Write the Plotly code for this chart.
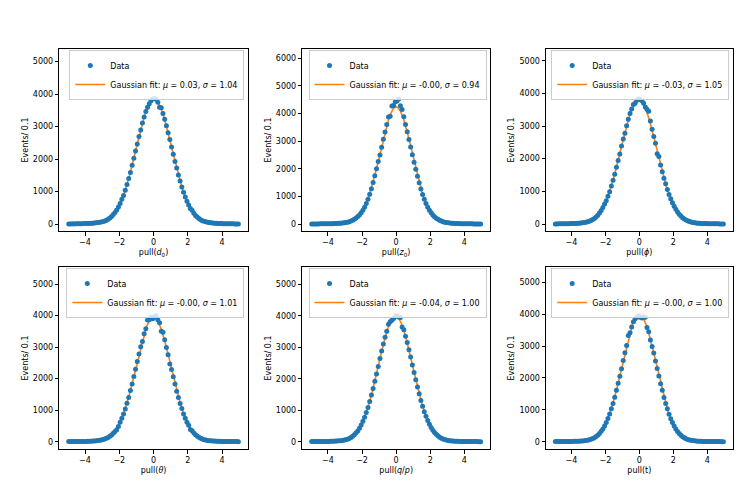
import numpy as np
import plotly.graph_objects as go

# ---------------- data ----------------
bin_width = 0.1
bin_start = -4.95  # first bin centre

counts_d0 = [
    4, 3, 5, 4, 6, 7, 6, 9, 10, 12,
    14, 16, 19, 22, 27, 31, 38, 44, 52, 63,
    76, 95, 118, 148, 186, 232, 290, 355, 432, 520,
    628, 762, 880, 1040, 1215, 1400, 1585, 1805, 2020, 2245,
    2460, 2690, 2890, 3110, 3290, 3460, 3590, 3700, 3790, 3850,
    3860, 3840, 3750, 3590, 3575, 3400, 3220, 3020, 2810, 2600,
    2370, 2150, 1925, 1720, 1505, 1320, 1140, 975, 835, 700,
    585, 475, 420, 330, 265, 212, 168, 133, 104, 82,
    66, 53, 44, 36, 30, 25, 21, 18, 15, 13,
    11, 9, 8, 7, 6, 5, 5, 4, 3, 3,
]
counts_z0 = [
    2, 3, 3, 4, 4, 5, 5, 6, 7, 8,
    9, 11, 13, 15, 18, 21, 25, 30, 37, 45,
    55, 68, 86, 108, 137, 172, 215, 268, 330, 410,
    495, 605, 740, 900, 1080, 1280, 1500, 1750, 2000, 2260,
    2500, 2780, 3070, 3330, 3600, 3870, 3900, 4270, 4290, 4430,
    4450, 4530, 4280, 4150, 3880, 3600, 3340, 3060, 2790, 2510,
    2240, 1980, 1730, 1490, 1270, 1070, 900, 745, 610, 500,
    405, 325, 262, 210, 168, 134, 106, 84, 67, 54,
    44, 36, 30, 25, 21, 18, 15, 13, 11, 9,
    8, 7, 6, 5, 5, 4, 4, 3, 3, 2,
]
counts_phi = [
    4, 4, 5, 5, 6, 7, 8, 9, 10, 12,
    14, 17, 19, 23, 27, 33, 38, 46, 56, 67,
    84, 106, 136, 172, 215, 270, 335, 410, 505, 610,
    715, 850, 990, 1160, 1340, 1525, 1740, 1945, 2140, 2390,
    2600, 2780, 3010, 3210, 3380, 3520, 3660, 3700, 3790, 3830,
    3810, 3770, 3700, 3580, 3510, 3450, 3150, 2900, 2680, 2470,
    2150, 2070, 1810, 1600, 1400, 1230, 1060, 905, 770, 650,
    540, 450, 370, 300, 245, 195, 155, 122, 96, 76,
    60, 48, 39, 32, 27, 23, 19, 16, 14, 12,
    10, 9, 8, 7, 6, 5, 5, 4, 4, 3,
]
counts_theta = [
    3, 3, 4, 4, 5, 5, 6, 7, 8, 9,
    10, 12, 14, 17, 20, 24, 29, 35, 43, 53,
    68, 86, 108, 135, 170, 215, 270, 320, 380, 480,
    620, 745, 880, 1040, 1220, 1400, 1620, 1830, 2070, 2300,
    2540, 2780, 3010, 3180, 3420, 3580, 3860, 3870, 3950, 3900,
    3960, 3990, 3870, 3770, 3500, 3470, 3230, 2990, 2760, 2460,
    2290, 2060, 1830, 1600, 1400, 1210, 1050, 880, 745, 615,
    520, 390, 350, 280, 222, 176, 138, 108, 85, 66,
    52, 42, 34, 28, 23, 19, 16, 13, 11, 9,
    8, 7, 6, 5, 5, 4, 4, 3, 3, 2,
]
counts_qp = [
    3, 3, 4, 4, 5, 5, 6, 7, 8, 9,
    10, 12, 14, 16, 19, 22, 27, 33, 40, 50,
    62, 80, 104, 135, 172, 220, 285, 340, 430, 530,
    650, 780, 930, 1090, 1280, 1480, 1690, 1920, 2150, 2390,
    2640, 2880, 3100, 3320, 3510, 3735, 3810, 3860, 3910, 3990,
    3990, 3960, 3945, 3640, 3560, 3350, 3150, 2920, 2690, 2440,
    2200, 1965, 1735, 1520, 1310, 1130, 955, 805, 670, 555,
    455, 365, 295, 235, 185, 145, 112, 87, 67, 52,
    41, 33, 26, 21, 17, 14, 12, 10, 8, 7,
    6, 5, 5, 4, 4, 3, 3, 3, 2, 2,
]
counts_t = [
    3, 3, 3, 4, 4, 5, 5, 6, 7, 8,
    9, 11, 13, 15, 18, 21, 25, 31, 38, 47,
    58, 75, 97, 125, 160, 205, 260, 330, 400, 495,
    600, 725, 870, 1030, 1200, 1395, 1610, 1830, 2050, 2290,
    2550, 2790, 3020, 3330, 3420, 3600, 3760, 3860, 3900, 3950,
    3900, 3880, 3910, 3900, 3580, 3450, 3190, 2990, 2780, 2530,
    2300, 2060, 1820, 1610, 1390, 1195, 1030, 860, 720, 600,
    490, 400, 320, 255, 200, 158, 122, 94, 72, 55,
    43, 34, 27, 22, 18, 15, 12, 10, 9, 7,
    6, 5, 5, 4, 4, 3, 3, 3, 2, 2,
]

all_counts = [counts_d0, counts_z0, counts_phi, counts_theta, counts_qp, counts_t]

fit_mu = [0.03, -0.004, -0.03, -0.004, -0.04, -0.004]
fit_sigma = [1.04, 0.94, 1.05, 1.01, 1.00, 1.00]
fit_amp = [3835, 4240, 3800, 3950, 3989, 3989]

x_titles = [
    "pull(<i>d</i><sub>0</sub>)",
    "pull(<i>z</i><sub>0</sub>)",
    "pull(<i>ϕ</i>)",
    "pull(<i>θ</i>)",
    "pull(<i>q</i>/<i>p</i>)",
    "pull(t)",
]
y_title = "Events/ 0.1"
y_ranges = [[-215, 5385], [-253, 6336], [-214, 5358],
            [-231, 5539], [-232, 5550], [-229, 5480]]
x_range = [-5.5, 5.5]
x_ticks = [-4, -2, 0, 2, 4]

# ---------------- layout geometry (window pixels) ----------------
OFF = 8                     # page body margin
W, H = 747 - OFF, 498 - 2 * OFF
col_px = [(59.3, 247.8), (302.3, 490.0), (546.0, 732.7)]
row_px = [(49.0, 231.0), (267.0, 449.0)]


def px_x(p):
    return (p - OFF) / W


def px_y(p):
    return 1 - (p - OFF) / H


BLUE = "#1f77b4"
ORANGE = "#ff7f0e"
FONT = "DejaVu Sans"

fig = go.Figure()
layout = dict(
    width=W, height=H,
    margin=dict(l=0, r=0, t=0, b=0),
    paper_bgcolor="white", plot_bgcolor="white",
    font=dict(family=FONT, size=8, color="black"),
    showlegend=True,
)

x_fit = np.linspace(-5, 5, 500)

for i in range(6):
    r, c = divmod(i, 3)
    k = "" if i == 0 else str(i + 1)
    xa, ya = "x" + k, "y" + k
    leg = "legend" + k
    counts = np.array(all_counts[i], dtype=float)
    xc = bin_start + bin_width * np.arange(len(counts))

    mu, sg, amp = fit_mu[i], fit_sigma[i], fit_amp[i]
    y_fit = amp * np.exp(-0.5 * ((x_fit - mu) / sg) ** 2)

    fig.add_trace(go.Scatter(
        x=x_fit, y=y_fit, mode="lines",
        line=dict(color=ORANGE, width=1.6),
        name=f"Gaussian fit: <i>μ</i> = {mu:.2f}, <i>σ</i> = {sg:.2f}",
        xaxis=xa, yaxis=ya, legend=leg, legendrank=2,
    ))
    fig.add_trace(go.Scatter(
        x=xc, y=counts, mode="markers",
        marker=dict(color=BLUE, size=5),
        error_y=dict(type="sqrt", color=BLUE, thickness=1, width=0),
        name="Data",
        xaxis=xa, yaxis=ya, legend=leg, legendrank=1,
    ))

    x0, x1 = col_px[c]
    y0, y1 = row_px[r]
    axis_common = dict(
        showline=True, linecolor="black", linewidth=1, mirror=True,
        ticks="outside", ticklen=3.5, tickwidth=0.8, tickcolor="black",
        showgrid=False, zeroline=False,
        tickfont=dict(family=FONT, size=8, color="black"),
    )
    layout["xaxis" + k] = dict(
        domain=[px_x(x0), px_x(x1)], anchor=ya, range=x_range,
        tickvals=x_ticks,
        title=dict(text=x_titles[i], font=dict(family=FONT, size=8), standoff=3),
        **axis_common,
    )
    layout["yaxis" + k] = dict(
        domain=[px_y(y1), px_y(y0)], anchor=xa, range=y_ranges[i],
        dtick=1000, tick0=0, tickformat="d",
        title=dict(text=y_title, font=dict(family=FONT, size=8), standoff=3),
        **axis_common,
    )
    layout[leg] = dict(
        x=px_x(x1 - 3.5), y=px_y(y0 + 1),
        xanchor="right", yanchor="top",
        bgcolor="rgba(255,255,255,0.8)", bordercolor="#cccccc", borderwidth=1,
        font=dict(family=FONT, size=8, color="black"),
        itemwidth=30, tracegroupgap=0,
    )

fig.update_layout(**layout)
fig.write_html("out.html")
